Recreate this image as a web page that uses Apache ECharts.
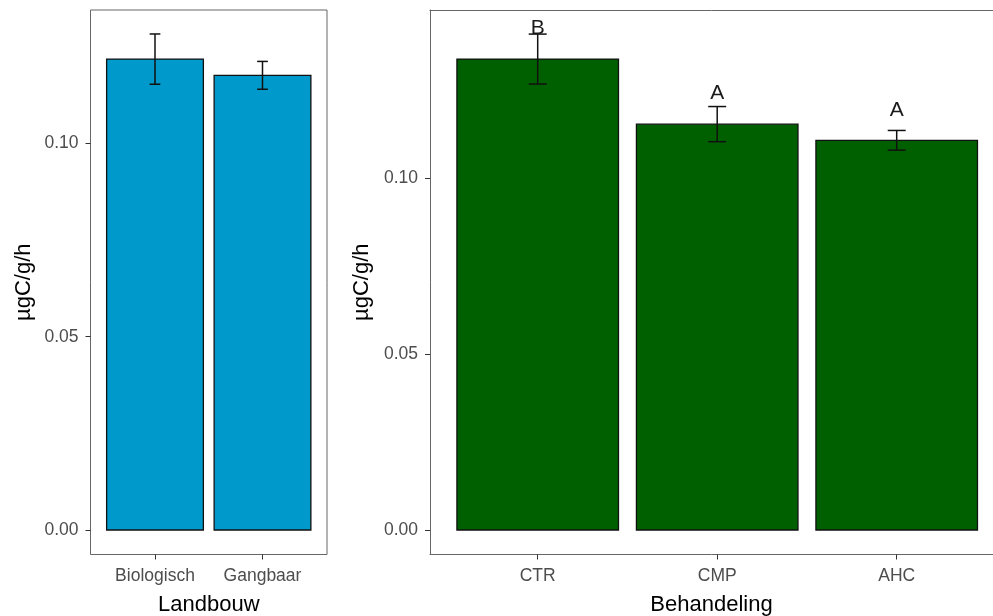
<!DOCTYPE html>
<html>
<head>
<meta charset="utf-8">
<script src="https://cdn.jsdelivr.net/npm/echarts@6/dist/echarts.min.js"></script>
<style>html,body{margin:0;padding:0;background:#fff}#c{width:993px;height:616px}</style>
</head>
<body>
<div id="c"></div>
<script>
// ---- data ----
var landbouwCats = ['Biologisch', 'Gangbaar'];
var landbouwMean = [0.1218, 0.1176];
var landbouwSE   = [0.0065, 0.0036];

var behCats    = ['CTR', 'CMP', 'AHC'];
var behMean    = [0.1339, 0.1154, 0.1108];
var behSE      = [0.0071, 0.0050, 0.0028];
var behLetters = ['B', 'A', 'A'];
var behLetterY = [0.1426, 0.1241, 0.1195];

var yTicks = [0, 0.05, 0.10];

// ---- helpers ----
var FONT = 'Liberation Sans, Arial, sans-serif';
var BORDER = '#666';
function toPts(means, ses) {
  return means.map(function (m, i) { return [i + 1, m, ses[i]]; });
}
function barSeries(idx, data, color) {
  return {
    type: 'custom', xAxisIndex: idx, yAxisIndex: idx, data: data,
    renderItem: function (params, api) {
      var x = api.value(0), v = api.value(1);
      var p0 = api.coord([x - 0.45, v]);
      var p1 = api.coord([x + 0.45, 0]);
      return {
        type: 'rect',
        shape: { x: p0[0], y: p0[1], width: p1[0] - p0[0], height: p1[1] - p0[1] },
        style: { fill: color, stroke: '#111', lineWidth: 1.3 }
      };
    }
  };
}
function errSeries(idx, data) {
  return {
    type: 'custom', xAxisIndex: idx, yAxisIndex: idx, data: data, z: 5,
    renderItem: function (params, api) {
      var x = api.value(0), v = api.value(1), s = api.value(2);
      var top = api.coord([x, v + s]);
      var bot = api.coord([x, v - s]);
      var l = api.coord([x - 0.05, v])[0];
      var r = api.coord([x + 0.05, v])[0];
      var st = { stroke: '#111', lineWidth: 1.5 };
      return {
        type: 'group', children: [
          { type: 'line', shape: { x1: top[0], y1: top[1], x2: bot[0], y2: bot[1] }, style: st },
          { type: 'line', shape: { x1: l, y1: top[1], x2: r, y2: top[1] }, style: st },
          { type: 'line', shape: { x1: l, y1: bot[1], x2: r, y2: bot[1] }, style: st }
        ]
      };
    }
  };
}
function xAxis(idx, cats, name, max, showLine) {
  var vals = cats.map(function (c, i) { return i + 1; });
  return {
    type: 'value', gridIndex: idx, min: 0.4, max: max,
    name: name, nameLocation: 'middle', nameGap: 39,
    nameTextStyle: { fontFamily: FONT, fontSize: 22, color: '#000' },
    axisLine: { show: showLine, onZero: false, lineStyle: { color: BORDER, width: 1 } },
    splitLine: { show: false },
    axisTick: { show: true, customValues: vals, length: 5, lineStyle: { color: '#333', width: 1 } },
    axisLabel: {
      customValues: vals, margin: 13, fontFamily: FONT, fontSize: 17.5, color: '#4d4d4d',
      formatter: function (v) { return cats[Math.round(v) - 1] || ''; }
    }
  };
}
function yAxis(idx, min, max, showLine) {
  return {
    type: 'value', gridIndex: idx, min: min, max: max,
    name: 'µgC/g/h', nameLocation: 'middle', nameGap: 56, nameRotate: 90,
    nameTextStyle: { fontFamily: FONT, fontSize: 22, color: '#000' },
    axisLine: { show: showLine, onZero: false, lineStyle: { color: BORDER, width: 1 } },
    splitLine: { show: false },
    axisTick: { show: true, customValues: yTicks, length: 5, lineStyle: { color: '#333', width: 1 } },
    axisLabel: {
      customValues: yTicks, margin: 12, fontFamily: FONT, fontSize: 17.5, color: '#4d4d4d',
      formatter: function (v) { return v.toFixed(2); }
    }
  };
}

var leftPts = toPts(landbouwMean, landbouwSE);
var rightPts = toPts(behMean, behSE);
var letterData = behLetters.map(function (t, i) { return [i + 1, behLetterY[i], t]; });

var rightMax = 3.5365;

var chart = echarts.init(document.getElementById('c'), null, { renderer: 'canvas' });
chart.setOption({
  animation: false,
  backgroundColor: '#fff',
  grid: [
    { left: 90.5, top: 10, width: 236.5, height: 544.5, show: true, borderColor: BORDER, borderWidth: 1, backgroundColor: 'transparent', containLabel: false, outerBoundsMode: 'none' },
    { left: 430, top: 10, width: 563, height: 544.5, show: false, containLabel: false, outerBoundsMode: 'none' }
  ],
  xAxis: [
    xAxis(0, landbouwCats, 'Landbouw', 2.6, false),
    xAxis(1, behCats, 'Behandeling', rightMax, true),
    {
      type: 'value', gridIndex: 1, position: 'top', min: 0.4, max: rightMax,
      axisLine: { show: true, onZero: false, lineStyle: { color: BORDER, width: 1 } },
      axisTick: { show: false }, axisLabel: { show: false }, splitLine: { show: false }
    }
  ],
  yAxis: [yAxis(0, -0.00634, 0.1345, false), yAxis(1, -0.00697, 0.14785, true)],
  series: [
    barSeries(0, leftPts, '#0099CC'),
    errSeries(0, leftPts),
    barSeries(1, rightPts, '#006000'),
    errSeries(1, rightPts),
    {
      type: 'custom', xAxisIndex: 1, yAxisIndex: 1, data: letterData, z: 6,
      renderItem: function (params, api) {
        var p = api.coord([api.value(0), api.value(1)]);
        return {
          type: 'text',
          style: {
            text: behLetters[params.dataIndex], x: p[0], y: p[1],
            align: 'center', verticalAlign: 'middle',
            fontFamily: FONT, fontSize: 21, fill: '#1a1a1a'
          }
        };
      }
    }
  ]
});
</script>
</body>
</html>
